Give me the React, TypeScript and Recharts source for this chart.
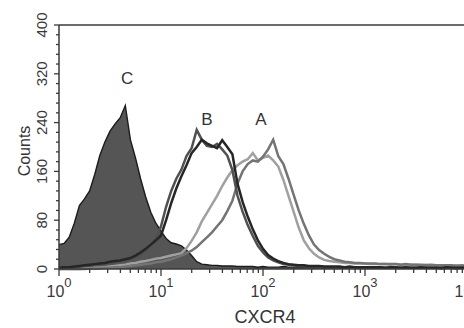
import React from 'react';
import { ComposedChart, Area, Line, XAxis, YAxis, ReferenceLine, ReferenceDot } from 'recharts';

// log10 of CXCR4 fluorescence, one bin every 0.05 decade
const decades = [
  0, 0.05, 0.1, 0.15, 0.2, 0.25, 0.3, 0.35, 0.4, 0.45,
  0.5, 0.55, 0.6, 0.65, 0.7, 0.75, 0.8, 0.85, 0.9, 0.95,
  1, 1.05, 1.1, 1.15, 1.2, 1.25, 1.3, 1.35, 1.4, 1.45,
  1.5, 1.55, 1.6, 1.65, 1.7, 1.75, 1.8, 1.85, 1.9, 1.95,
  2, 2.05, 2.1, 2.15, 2.2, 2.25, 2.3, 2.35, 2.4, 2.45,
  2.5, 2.55, 2.6, 2.65, 2.7, 2.75, 2.8, 2.85, 2.9, 2.95,
  3, 3.05, 3.1, 3.15, 3.2, 3.25, 3.3, 3.35, 3.4, 3.45,
  3.5, 3.55, 3.6, 3.65, 3.7, 3.75, 3.8, 3.85, 3.9, 3.95,
  4,
];

// C: isotype control (filled)
const countsC = [
  40, 42, 52, 75, 104, 115, 128, 155, 186, 208,
  226, 238, 248, 268, 212, 182, 148, 118, 93, 75,
  62, 50, 43, 41, 38, 31, 22, 12, 8, 7,
  6, 6, 5, 5, 5, 4, 4, 4, 4, 3,
  4, 3, 3, 3, 4, 3, 3, 3, 3, 3,
  2, 3, 2, 2, 3, 2, 2, 2, 2, 2,
  2, 2, 2, 2, 2, 2, 2, 1, 2, 2,
  1, 2, 2, 1, 2, 1, 2, 1, 1, 2,
  1,
];

// B: two dark overlays
const countsB1 = [
  2, 3, 3, 4, 5, 6, 7, 8, 9, 10,
  12, 13, 14, 16, 18, 22, 27, 33, 40, 47,
  55, 80, 108, 132, 152, 170, 190, 200, 212, 206,
  202, 198, 211, 200, 188, 140, 110, 86, 65, 47,
  33, 23, 17, 13, 10, 8, 7, 6, 6, 5,
  5, 5, 4, 4, 4, 4, 3, 4, 3, 3,
  3, 3, 3, 3, 2, 3, 3, 2, 3, 2,
  2, 3, 2, 2, 2, 2, 3, 2, 2, 2,
  2,
];

const countsB2 = [
  2, 2, 3, 3, 4, 5, 6, 7, 8, 9,
  10, 11, 13, 14, 16, 19, 24, 30, 38, 50,
  70, 102, 128, 148, 163, 185, 198, 228, 212, 202,
  200, 205, 196, 186, 162, 120, 94, 72, 54, 38,
  27, 19, 14, 11, 8, 7, 6, 5, 5, 4,
  4, 4, 3, 3, 3, 3, 3, 2, 3, 2,
  2, 2, 3, 2, 2, 2, 2, 2, 2, 2,
  2, 2, 2, 2, 2, 1, 2, 2, 1, 2,
  2,
];

// A: two grey overlays
const countsA1 = [
  0, 0, 0, 0, 0, 0, 1, 1, 1, 2,
  2, 3, 3, 4, 5, 6, 7, 8, 9, 11,
  12, 14, 16, 19, 22, 26, 30, 36, 44, 52,
  60, 70, 80, 95, 112, 140, 160, 172, 178, 176,
  184, 196, 212, 185, 172, 148, 122, 96, 74, 55,
  40, 31, 25, 20, 16, 14, 12, 11, 10, 10,
  9, 9, 9, 8, 8, 8, 8, 7, 8, 7,
  7, 7, 6, 7, 6, 6, 6, 6, 5, 6,
  5,
];

const countsA2 = [
  0, 0, 0, 0, 0, 1, 1, 2, 2, 3,
  4, 5, 6, 7, 9, 10, 12, 13, 15, 17,
  18, 20, 22, 24, 26, 34, 46, 60, 78, 92,
  106, 120, 136, 150, 162, 170, 176, 180, 190, 178,
  182, 186, 178, 168, 146, 120, 94, 68, 47, 34,
  25, 19, 15, 13, 12, 11, 10, 10, 9, 9,
  9, 8, 8, 8, 8, 7, 8, 7, 7, 7,
  7, 6, 7, 6, 6, 6, 6, 5, 6, 5,
  5,
];

const majorDecades = [0, 1, 2, 3, 4];
const minorFactors = [2, 3, 4, 5, 6, 7, 8, 9];
const xTicks = majorDecades.flatMap((d) =>
  d < 4 ? [d, ...minorFactors.map((f) => d + Math.log10(f))] : [d]
);
const yTicks = [
  0, 16, 32, 48, 64, 80, 96, 112, 128, 144, 160, 176, 192, 208, 224,
  240, 256, 272, 288, 304, 320, 336, 352, 368, 384, 400,
];
const yLabels = [0, 80, 160, 240, 320, 400];

const data = decades.map((x, i) => ({
  x,
  c: countsC[i],
  b1: countsB1[i],
  b2: countsB2[i],
  a1: countsA1[i],
  a2: countsA2[i],
}));

const FONT = '"Liberation Sans", Arial, sans-serif';
const INK = '#3a3a3a';

const XTick = ({ x, y, payload }: any) => {
  const v = payload.value;
  const major = majorDecades.includes(v);
  return (
    <g>
      <line x1={x} x2={x} y1={y} y2={y + (major ? 7 : 4)} stroke={INK} strokeWidth={1.3} />
      {major && (
        <text x={x} y={y + 28} textAnchor="middle" fontFamily={FONT} fontSize={16} fill={INK}>
          <tspan>10</tspan>
          <tspan dy={-10} fontSize={13}>{v}</tspan>
        </text>
      )}
    </g>
  );
};

const YTick = ({ x, y, payload }: any) => {
  const v = payload.value;
  const major = yLabels.includes(v);
  const tx = x - 12;
  return (
    <g>
      <line x1={x - (major ? 5 : 3)} x2={x} y1={y} y2={y} stroke={INK} strokeWidth={1.3} />
      {major && (
        <text
          x={tx}
          y={y}
          transform={`rotate(-90 ${tx} ${y})`}
          textAnchor="middle"
          fontFamily={FONT}
          fontSize={15}
          fill={INK}
        >
          {v}
        </text>
      )}
    </g>
  );
};

const peakLabel = { fontFamily: FONT, fontSize: 17, fill: '#333' };

export default function App() {
  return (
    <div style={{ position: 'fixed', left: 0, top: 0, width: 464, height: 328, overflow: 'hidden', background: '#fff' }}>
      <ComposedChart
        width={490}
        height={328}
        data={data}
        margin={{ top: 25, right: 23, bottom: 29, left: 29 }}
      >
        <XAxis
          dataKey="x"
          type="number"
          domain={[0, 4]}
          ticks={xTicks}
          interval={0}
          height={30}
          tickSize={0}
          tickMargin={0}
          tick={<XTick />}
          axisLine={{ stroke: INK, strokeWidth: 1.5 }}
          label={() => (
            <text x={265} y={323} textAnchor="middle" fontFamily={FONT} fontSize={18} fill="#333">
              CXCR4
            </text>
          )}
        />
        <YAxis
          type="number"
          domain={[0, 400]}
          ticks={yTicks}
          interval={0}
          width={30}
          tickSize={0}
          tickMargin={0}
          tick={<YTick />}
          axisLine={{ stroke: INK, strokeWidth: 1.5 }}
          label={() => (
            <text
              x={30}
              y={151}
              transform="rotate(-90 30 151)"
              textAnchor="middle"
              fontFamily={FONT}
              fontSize={16}
              fill="#333"
            >
              Counts
            </text>
          )}
        />
        <ReferenceLine y={400} stroke={INK} strokeWidth={1.5} />
        <Area
          dataKey="c"
          type="linear"
          fill="#555555"
          fillOpacity={1}
          stroke="#1c1c1c"
          strokeWidth={1.4}
          isAnimationActive={false}
        />
        <Line dataKey="a2" type="linear" stroke="#a0a0a0" strokeWidth={2.5} dot={false} isAnimationActive={false} />
        <Line dataKey="a1" type="linear" stroke="#747474" strokeWidth={2.5} dot={false} isAnimationActive={false} />
        <Line dataKey="b2" type="linear" stroke="#505050" strokeWidth={2.5} dot={false} isAnimationActive={false} />
        <Line dataKey="b1" type="linear" stroke="#262626" strokeWidth={2.5} dot={false} isAnimationActive={false} />
        <ReferenceDot x={0.667} y={313} r={0} label={{ value: 'C', position: 'center', ...peakLabel }} />
        <ReferenceDot x={1.45} y={246} r={0} label={{ value: 'B', position: 'center', ...peakLabel }} />
        <ReferenceDot x={1.98} y={246} r={0} label={{ value: 'A', position: 'center', ...peakLabel }} />
      </ComposedChart>
    </div>
  );
}
